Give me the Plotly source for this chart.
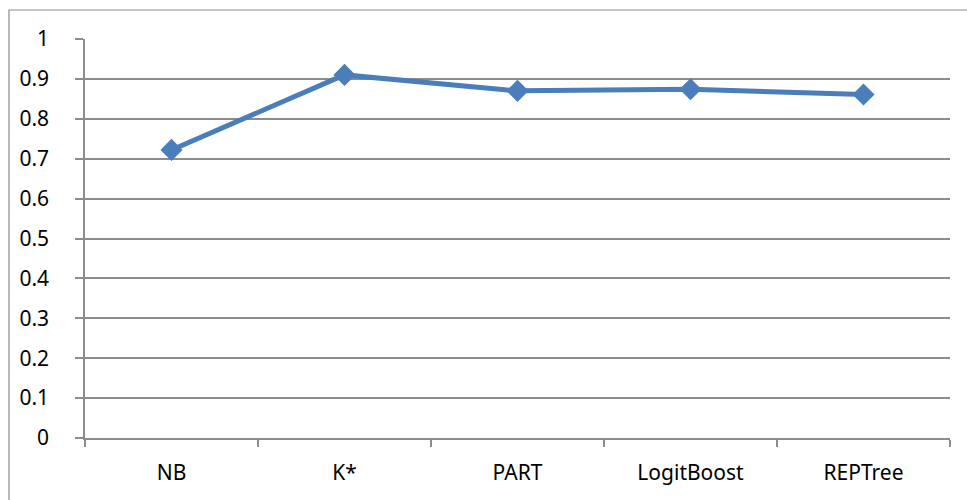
import plotly.graph_objects as go

# Classifier results
classifiers = ["NB", "K*", "PART", "LogitBoost", "REPTree"]
scores = [0.722, 0.910, 0.870, 0.874, 0.861]
y_ticks = [0, 0.1, 0.2, 0.3, 0.4, 0.5, 0.6, 0.7, 0.8, 0.9, 1]
y_tick_text = ["0", "0.1", "0.2", "0.3", "0.4", "0.5", "0.6", "0.7", "0.8", "0.9", "1"]

W, H = 967, 500
ML, MR, MT, MB = 85, 17, 39, 62
pw, ph = W - ML - MR, H - MT - MB

line_color = "#4A7EBB"
grid_color = "#8C8C8C"
font = dict(family="Noto Sans, Open Sans, sans-serif", size=21, color="#000000")

fig = go.Figure()
fig.add_trace(go.Scatter(
    x=classifiers, y=scores, mode="lines+markers",
    line=dict(color=line_color, width=5),
    marker=dict(symbol="diamond", size=17, color=line_color),
    cliponaxis=False, showlegend=False,
))

# Outer frame of the chart area
def px_x(p):
    return (p - ML) / pw

def px_y(p):
    return (H - MB - p) / ph

fig.add_shape(type="rect", xref="paper", yref="paper",
              x0=px_x(9), x1=px_x(975), y0=px_y(508), y1=px_y(10),
              line=dict(color=grid_color, width=1.2), fillcolor="rgba(0,0,0,0)",
              layer="below")

fig.update_layout(
    width=W, height=H,
    margin=dict(l=ML, r=MR, t=MT, b=MB),
    paper_bgcolor="white", plot_bgcolor="white",
    font=font,
    xaxis=dict(
        type="category", range=[-0.5, 4.5],
        showgrid=False, showline=True, linecolor=grid_color, linewidth=1.5,
        ticks="outside", ticklen=7, tickcolor=grid_color, tickwidth=1.5,
        tickson="boundaries", ticklabelstandoff=15,
        tickfont=font, zeroline=False,
    ),
    yaxis=dict(
        range=[0, 1], tickvals=y_ticks, ticktext=y_tick_text,
        showgrid=True, gridcolor=grid_color, gridwidth=1.5,
        showline=True, linecolor=grid_color, linewidth=1.5,
        ticks="outside", ticklen=8, tickcolor=grid_color, tickwidth=1.5,
        ticklabelstandoff=22, tickfont=font, zeroline=False,
    ),
)

fig.write_html("out.html")
